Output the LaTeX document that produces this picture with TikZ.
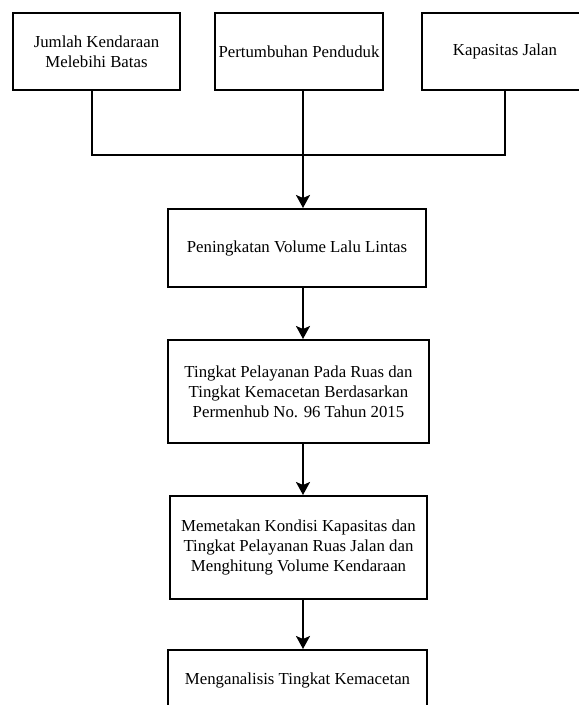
\documentclass[tikz,border=0pt]{standalone}
\usepackage{fontspec}
\setmainfont{Liberation Serif}
\usetikzlibrary{arrows.meta}
\tikzset{
  box/.style={draw, line width=2pt, align=center, inner sep=0pt,
    font=\rmfamily\fontsize{16.8}{19.8}\selectfont},
  link/.style={line width=2pt},
  arr/.style={line width=2pt, -{Stealth[width=14pt,length=13pt,inset=3pt]}}
}
\begin{document}
\begin{tikzpicture}[x=1pt,y=1pt]
\clip (0,0) rectangle (579,-705);
\fill[white] (0,0) rectangle (579,-705);
% top row
\node[box, minimum width=167pt, minimum height=77pt] (b1) at (96.5,-51.5) {Jumlah Kendaraan\\Melebihi Batas};
\node[box, minimum width=168pt, minimum height=77pt] (b2) at (299,-51.5) {Pertumbuhan Penduduk};
\node[box, minimum width=166pt, minimum height=77pt] (b3) at (505,-51.5) {Kapasitas Jalan};
% central column
\node[box, minimum width=258pt, minimum height=78pt] (p) at (297,-248) {Peningkatan Volume Lalu Lintas};
\node[box, minimum width=261pt, minimum height=103pt] (t) at (298.5,-391.5) {Tingkat Pelayanan Pada Ruas dan\\Tingkat Kemacetan Berdasarkan\\Permenhub No. 96 Tahun 2015};
\node[box, minimum width=257pt, minimum height=103pt] (m) at (298.5,-547.5) {Memetakan Kondisi Kapasitas dan\\Tingkat Pelayanan Ruas Jalan dan\\Menghitung Volume Kendaraan};
\node[box, minimum width=259pt, minimum height=60pt] (a) at (297.5,-680) {Menganalisis Tingkat Kemacetan};
% junction points
\coordinate (j) at (303,-155);
\coordinate (k) at (92,-155);
% connectors
\draw[link] (b1.south -| k) -- (k) -- (b3.south |- k) -- (b3.south);
\draw[arr] (b2.south -| j) -- (p.north -| j);
\draw[arr] (p.south -| j) -- (t.north -| j);
\draw[arr] (t.south -| j) -- (m.north -| j);
\draw[arr] (m.south -| j) -- (a.north -| j);
\end{tikzpicture}
\end{document}
